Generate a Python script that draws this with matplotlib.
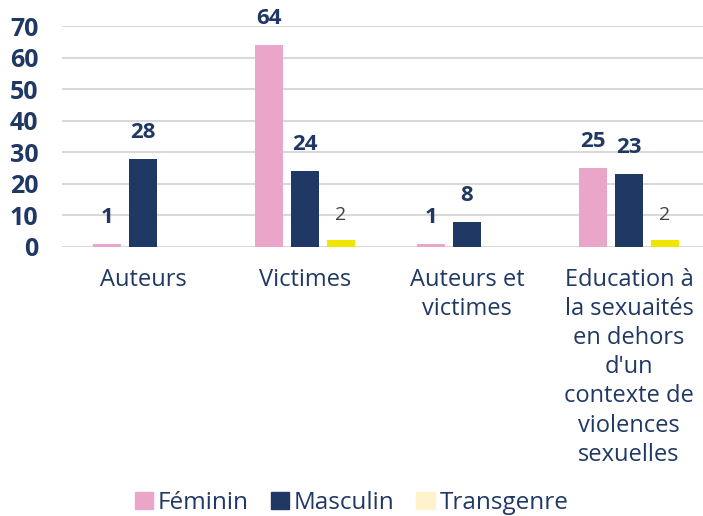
import matplotlib
matplotlib.use("Agg")
import matplotlib.pyplot as plt
import numpy as np
from matplotlib.patches import Patch

plt.rcParams["font.family"] = ["Open Sans", "DejaVu Sans"]

categories = [
    "Auteurs",
    "Victimes",
    "Auteurs et\nvictimes",
    "Education à\nla sexuaités\nen dehors\nd'un\ncontexte de\nviolences\nsexuelles",
]
series = ["Féminin", "Masculin", "Transgenre"]
feminin = [1, 64, 1, 25]
masculin = [28, 24, 8, 23]
transgenre = [None, 2, None, 2]

NAVY = "#203864"
PINK = "#eaa6c9"
YELLOW = "#efe600"
YELLOW_LEGEND = "#fff2cc"
GRID = "#d9d9d9"

fig = plt.figure(figsize=(7.03, 5.16), dpi=100)
ax = fig.add_axes([62 / 703, 269.3 / 516, 648 / 703, 220.4 / 516])

x = np.arange(len(categories))
w = 0.173
step = 0.222

def vals(v):
    return [0 if a is None else a for a in v]

ax.bar(x - step, feminin, w, color=PINK, zorder=3)
ax.bar(x, masculin, w, color=NAVY, zorder=3)
ax.bar(x + step, vals(transgenre), w, color=YELLOW, zorder=3)

for xi, v in zip(x - step, feminin):
    ax.annotate(str(v), (xi, v), xytext=(0, 19), textcoords="offset points",
                ha="center", va="center", fontsize=16, fontweight="bold",
                color=NAVY, annotation_clip=False)
for xi, v in zip(x, masculin):
    ax.annotate(str(v), (xi, v), xytext=(0, 19), textcoords="offset points",
                ha="center", va="center", fontsize=16, fontweight="bold",
                color=NAVY, annotation_clip=False)
for xi, v in zip(x + step, transgenre):
    if v is None:
        continue
    ax.annotate(str(v), (xi, v), xytext=(0, 18), textcoords="offset points",
                ha="center", va="center", fontsize=14, color="#404040",
                annotation_clip=False)

ax.set_xlim(-0.5, len(categories) - 0.5)
ax.set_ylim(0, 70)
ax.set_yticks(range(0, 71, 10))
ax.set_xticks(x)
ax.set_xticklabels(categories, fontsize=17, color=NAVY, linespacing=1.29)
ax.tick_params(axis="x", length=0, pad=15)
ax.tick_params(axis="y", length=0, pad=17, labelsize=18, labelcolor=NAVY)
for lbl in ax.get_yticklabels():
    lbl.set_fontweight("bold")

ax.grid(axis="y", color=GRID, linewidth=1.5, zorder=0)
for s in ax.spines.values():
    s.set_visible(False)

handles = [
    Patch(color=PINK, label=series[0]),
    Patch(color=NAVY, label=series[1]),
    Patch(color=YELLOW_LEGEND, label=series[2]),
]
leg = fig.legend(handles=handles, loc="center", bbox_to_anchor=(0.5, 13 / 516),
                 ncol=3, frameon=False, fontsize=17.5, handlelength=0.75,
                 handleheight=0.75, handletextpad=0.2, columnspacing=0.9)
for t in leg.get_texts():
    t.set_color(NAVY)

fig.savefig("out.png", dpi=100)
